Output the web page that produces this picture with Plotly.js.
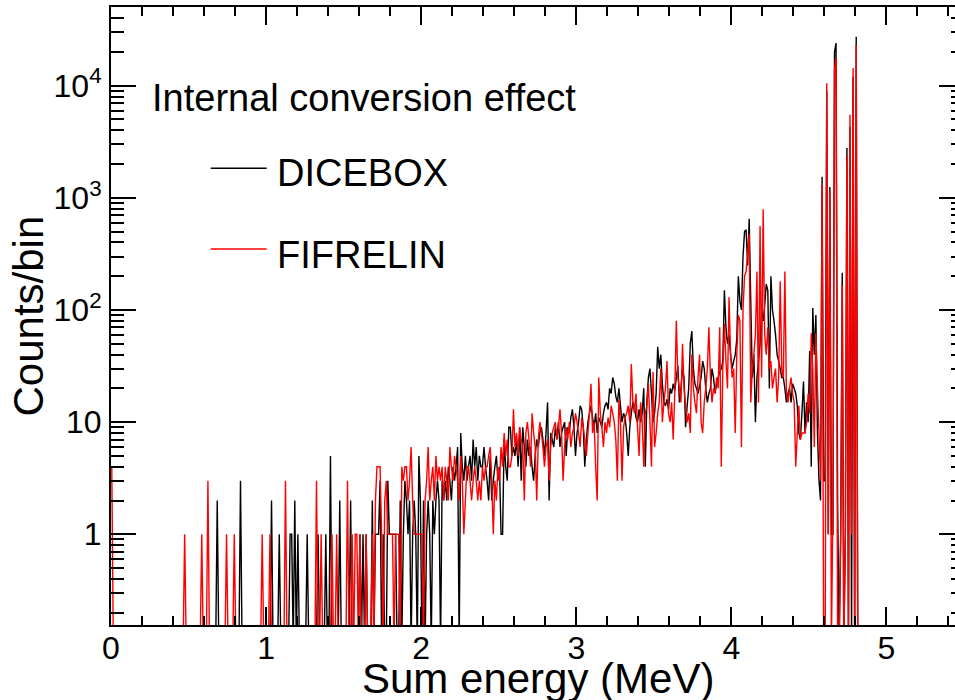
<!DOCTYPE html>
<html>
<head>
<meta charset="utf-8">
<script src="https://cdn.plot.ly/plotly-3.0.1.min.js"></script>
<style>
html,body{margin:0;padding:0;overflow:hidden;background:#ffffff;}
#chart{width:964px;height:700px;}
</style>
</head>
<body>
<div id="chart"></div>
<script>
// ---- histogram binning (Sum energy, MeV) ----
const binLow = 0.0;
const binWidth = 0.01;

// ---- counts per 10 keV bin (bins from 0 MeV) ----
const dicebox = [
0,0,0,0,0,0,0,0,0,0,
0,0,0,0,0,0,0,0,0,0,
0,0,0,0,0,0,0,0,0,0,
0,0,0,0,0,0,0,0,0,0,
0,0,0,0,0,0,0,0,0,0,
0,0,0,0,0,0,0,0,0,0,
0,0,0,0,0,0,0,0,2,0,
0,0,0,0,0,0,0,0,0,0,
0,0,0,3,0,0,0,0,0,0,
0,0,0,0,0,0,0,0,0,0,
0,0,0,2,0,0,0,0,1,0,
0,0,0,0,0,1,1,0,2,0,
1,0,0,0,0,0,1,0,0,0,
0,0,0,1,0,0,0,0,1,0,
0,5,0,0,0,0,0,2,0,0,
0,0,0,0,2,0,0,0,0,0,
1,0,1,0,1,0,0,0,2,0,
1,1,1,3,0,1,0,0,3,1,
1,1,1,1,0,0,2,0,1,3,
2,1,2,0,1,2,1,0,5,2,
0,2,0,1,2,1,0,2,1,2,
3,2,0,3,2,3,2,4,3,2,
4,3,4,6,0,8,4,3,5,3,
4,5,3,7,4,6,3,5,4,4,
6,4,3,2,5,2,3,4,5,3,
4,1,1,7,4,3,9,9,5,6,
5,7,4,9,3,9,6,4,7,5,
6,4,3,5,7,6,8,9,7,5,
8,15,2,8,7,6,9,7,10,6,
8,9,10,5,9,8,11,13,9,5,
8,10,14,13,9,4,7,10,12,14,
11,9,12,8,11,10,9,12,14,15,
13,20,18,25,22,17,15,20,14,10,
12,11,8,5,9,12,15,14,11,10,
13,10,12,20,4,15,25,30,18,10,
12,18,47,30,40,22,15,14,16,13,
20,18,22,19,25,32,15,20,30,25,
9,14,20,50,65,30,22,20,18,21,
25,35,30,20,15,18,20,30,25,18,
22,25,28,30,35,150,70,50,60,40,
30,35,40,55,200,120,100,300,500,520,
250,650,120,25,40,10,25,35,50,100,
80,110,170,150,20,200,100,80,60,40,
35,30,25,25,20,15,18,20,15,22,
20,18,14,8,7,12,23,8,15,10,
43,4,104,40,90,8,3,2,1540,3,
3,9000,1,1250,1,1,20000,24000,2,0,
1,215,0,1,2790,0,4300,0,12000,0,
27300,0,0,0,0,0,0,0,0,0
];

const fifrelin = [
4,0,0,0,0,0,0,0,0,0,
0,0,0,0,0,0,0,0,0,0,
0,0,0,0,0,0,0,0,0,0,
0,0,0,0,0,0,0,0,0,0,
0,0,0,0,0,0,0,1,0,0,
0,0,0,0,0,0,0,0,1,0,
0,0,3,0,0,0,0,0,0,0,
0,0,0,0,1,0,0,0,0,1,
0,0,0,0,0,0,0,0,0,0,
0,0,0,0,0,0,0,1,0,0,
0,0,1,0,0,0,0,0,0,0,
0,0,3,0,0,0,0,0,0,0,
0,0,0,0,0,0,0,0,0,0,
0,0,3,0,0,1,0,0,0,0,
0,0,1,0,0,1,0,0,0,0,
0,0,3,0,0,1,0,1,1,0,
1,0,0,0,1,0,0,0,1,0,
2,4,4,4,1,0,2,3,1,1,
1,1,0,1,1,1,0,4,3,4,
4,2,3,6,2,1,1,1,1,1,
1,0,2,3,6,2,3,4,2,5,
3,4,3,4,2,4,3,2,6,4,
3,5,4,3,2,5,3,1,2,4,
4,3,2,3,4,3,2,3,2,4,
3,4,4,5,6,3,1,3,2,4,
3,6,4,8,5,7,4,4,5,13,
6,8,5,9,7,6,2,8,10,7,
4,12,8,6,2,7,10,8,6,4,
6,7,3,6,8,9,10,7,9,13,
8,3,6,9,7,10,6,8,9,12,
10,8,6,11,9,7,5,8,12,22,
8,10,4,2,25,12,9,6,10,8,
11,9,14,12,10,7,3,16,10,3,
9,11,12,14,10,33,15,12,18,9,
5,15,10,4,12,14,22,10,4,28,
6,8,12,15,30,10,15,20,35,12,
10,15,7,18,80,25,20,15,50,20,
14,10,12,8,40,20,15,12,25,40,
10,8,15,20,30,70,25,15,20,18,
25,20,70,4,30,75,35,20,130,40,
25,30,8,40,90,80,6,100,200,220,
320,480,15,30,40,60,220,15,560,25,
790,60,40,70,30,35,20,25,30,15,
25,180,30,25,220,18,15,20,25,18,
15,4,8,14,7,8,8,8,10,18,
12,62,30,6,62,20,8,3,1300,0,
0,10500,1,1150,0,2,14000,17600,0,0,
1,165,0,1,2350,0,5500,1,14400,0,
23200,0,0,0,0,0,0,0,0,0
];

const seriesNames = ['DICEBOX', 'FIFRELIN'];
const seriesColors = ['#000000', '#ff0000'];
const xTickVals = [0, 1, 2, 3, 4, 5];
const xTickText = ['0', '1', '2', '3', '4', '5'];
const yTickVals = [1, 10, 100, 1000, 10000];
const yTickText = ['1', '10', '10<sup>2</sup>', '10<sup>3</sup>', '10<sup>4</sup>'];
const titleText = 'Internal conversion effect';
const xTitle = 'Sum energy (MeV)';
const yTitle = 'Counts/bin';

// ---- drawing ----
const FONT = 'Liberation Sans, Arial, Helvetica, sans-serif';
const W = 964, H = 700;
const M = {l: 111, r: 0, t: 7, b: 75};
const PW = W - M.l - M.r, PH = H - M.t - M.b;
const px = x => (x - M.l) / PW;         // pixel -> paper (x)
const py = y => (M.t + PH - y) / PH;    // pixel -> paper (y)

const centers = dicebox.map((_, i) => binLow + (i + 0.5) * binWidth);
const LOG_FLOOR = 0.1; // empty bins are drawn below the log-axis floor
const drawn = arr => arr.map(v => (v > 0 ? v : LOG_FLOOR));

const yMinor = [];
for (let d = -1; d <= 4; d++) for (let k = 2; k <= 9; k++) yMinor.push(k * Math.pow(10, d));

const traces = [dicebox, fifrelin].map((arr, s) => ({
  type: 'scatter', mode: 'lines', name: seriesNames[s],
  x: centers, y: drawn(arr),
  line: {color: seriesColors[s], width: 1.4, simplify: false},
  hoverinfo: 'skip', cliponaxis: true
}));

const axisCommon = {
  showline: true, linewidth: 2, linecolor: '#000', mirror: 'ticks',
  ticks: 'inside', tickwidth: 2, tickcolor: '#000',
  showgrid: false, zeroline: false,
  tickfont: {family: FONT, size: 32, color: '#000'}
};

const layout = {
  width: W, height: H,
  margin: {l: M.l, r: M.r, t: M.t, b: M.b, pad: 0},
  paper_bgcolor: '#ffffff', plot_bgcolor: '#ffffff',
  showlegend: false,
  font: {family: FONT, color: '#000', size: 32},
  xaxis: Object.assign({}, axisCommon, {
    type: 'linear', range: [0, 5.5],
    tickmode: 'array', tickvals: xTickVals, ticktext: xTickText,
    ticklen: 18, ticklabelstandoff: -6,
    minor: {dtick: 0.2, tick0: 0, ticks: 'inside', ticklen: 9, tickwidth: 2, tickcolor: '#000', showgrid: false}
  }),
  yaxis: Object.assign({}, axisCommon, {
    type: 'log', range: [-0.809, 4.702],
    tickmode: 'array', tickvals: yTickVals, ticktext: yTickText,
    ticklen: 25, ticklabelstandoff: 1,
    minor: {tickmode: 'array', tickvals: yMinor, ticks: 'inside', ticklen: 13, tickwidth: 2, tickcolor: '#000', showgrid: false}
  }),
  annotations: [
    {text: xTitle, xref: 'paper', yref: 'paper', x: 0.5, y: 0, xanchor: 'center', yanchor: 'middle',
     yshift: -53, showarrow: false, font: {family: FONT, size: 42, color: '#000'}},
    {text: yTitle, xref: 'paper', yref: 'paper', x: 0, y: 0.5, xanchor: 'center', yanchor: 'middle',
     xshift: -83.5, textangle: -90, showarrow: false, font: {family: FONT, size: 42, color: '#000'}},
    {text: titleText, xref: 'paper', yref: 'paper', x: px(150), y: py(97.5), xanchor: 'left', yanchor: 'middle',
     showarrow: false, font: {family: FONT, size: 38, color: '#000'}},
    {text: seriesNames[0], xref: 'paper', yref: 'paper', x: px(275), y: py(173), xanchor: 'left', yanchor: 'middle',
     showarrow: false, font: {family: FONT, size: 38, color: '#000'}},
    {text: seriesNames[1], xref: 'paper', yref: 'paper', x: px(275), y: py(254.5), xanchor: 'left', yanchor: 'middle',
     showarrow: false, font: {family: FONT, size: 38, color: '#000'}}
  ],
  shapes: [
    {type: 'line', xref: 'paper', yref: 'paper', x0: px(210.7), x1: px(266.7), y0: py(168.3), y1: py(168.3),
     line: {color: seriesColors[0], width: 1.4}},
    {type: 'line', xref: 'paper', yref: 'paper', x0: px(210.7), x1: px(266.7), y0: py(249), y1: py(249),
     line: {color: seriesColors[1], width: 1.4}}
  ]
};

Plotly.newPlot('chart', traces, layout, {staticPlot: true, displayModeBar: false, responsive: false});
</script>
</body>
</html>
